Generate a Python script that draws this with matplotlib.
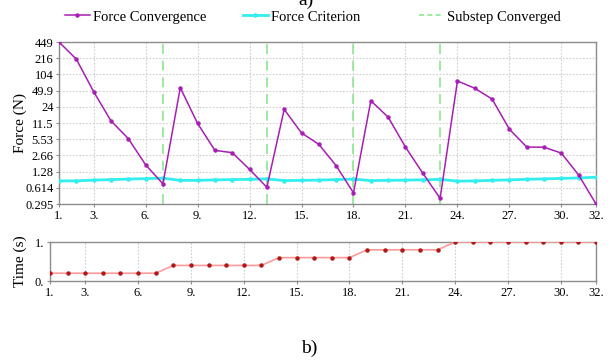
import numpy as np
import matplotlib
matplotlib.use("Agg")
import matplotlib.pyplot as plt
from matplotlib.lines import Line2D
from matplotlib.ticker import FixedLocator, FixedFormatter, NullLocator

plt.rcParams['font.family'] = ['Liberation Serif', 'DejaVu Serif']

iterations = list(range(1, 33))
force_convergence = [449, 207, 47.5, 12.7, 5.69, 1.74, 0.733,
                     56.9, 11.3, 3.34, 3.01, 1.41, 0.629,
                     21.3, 7.34, 4.39, 1.67, 0.488,
                     31.5, 15.0, 3.88, 1.19, 0.381,
                     77.1, 55.4, 34.0, 8.69, 3.88, 3.85, 2.95, 1.09, 0.295]
force_criterion = [0.84, 0.84, 0.87, 0.89, 0.91, 0.93, 0.95,
                   0.86, 0.86, 0.88, 0.89, 0.90, 0.92,
                   0.85, 0.86, 0.87, 0.89, 0.91,
                   0.85, 0.86, 0.87, 0.88, 0.90,
                   0.83, 0.84, 0.86, 0.88, 0.90, 0.92, 0.94, 0.96, 0.99]
substep_converged = [7, 13, 18, 23]
time_s = [0.2] * 7 + [0.4] * 6 + [0.6] * 5 + [0.8] * 5 + [1.0] * 9

force_ticks = [449, 216, 104, 49.9, 24, 11.5, 5.53, 2.66, 1.28, 0.614, 0.295]
force_tick_labels = ["449", "216", "104", "49.9", "24", "11.5", "5.53", "2.66", "1.28", "0.614", "0.295"]
x_ticks = [1, 3, 6, 9, 12, 15, 18, 21, 24, 27, 30, 32]
x_tick_labels = [f"{t}." for t in x_ticks]

magenta = "#a81eb4"
cyan = "#33eeee"
green = "#8fe68f"
frame = "#8c8c8c"

fig = plt.figure(figsize=(6.12, 3.6), dpi=100)
ax = fig.add_axes([0.0964, 0.4333, 0.8775, 0.45])
ax2 = fig.add_axes([0.0817, 0.2194, 0.8922, 0.1083])

# main force plot
ax.set_yscale("log")
ax.plot(iterations, force_criterion, color=cyan, lw=2.0, marker="o", ms=2.2, zorder=3)
ax.plot(iterations, force_convergence, color=magenta, lw=1.1, marker="o", ms=2.2, zorder=4)
for s in substep_converged:
    ax.axvline(s, color=green, lw=1.2, ls=(0, (6, 4)), zorder=2)

ax.set_xlim(1, 32)
ax.set_ylim(0.295, 449)
ax.yaxis.set_major_locator(FixedLocator(force_ticks))
ax.yaxis.set_major_formatter(FixedFormatter(force_tick_labels))
ax.yaxis.set_minor_locator(NullLocator())
ax.set_xticks(x_ticks)
ax.set_xticklabels(x_tick_labels)
ax.set_ylabel("Force (N)", fontsize=11)
ax.yaxis.set_label_coords(-0.0596, 0.5)
ax.grid(True, color="#cfcfcf", ls=(0, (1.5, 1.5)), lw=0.8)

# time plot
ax2.plot(iterations, time_s, color="#ff9a9a", lw=1.2, zorder=3)
ax2.plot(iterations, time_s, ls="none", color="#b01818", marker="o", ms=2.2, zorder=4)
ax2.set_xlim(1, 32)
ax2.set_ylim(0, 1)
ax2.set_yticks([0, 1])
ax2.set_yticklabels(["0.", "1."])
ax2.set_xticks(x_ticks)
ax2.set_xticklabels(x_tick_labels)
ax2.set_ylabel("Time (s)", fontsize=11)
ax2.yaxis.set_label_coords(-0.042, 0.5)
ax2.grid(True, axis="x", color="#cfcfcf", ls=(0, (1.5, 1.5)), lw=0.8)

for a in (ax, ax2):
    for sp in a.spines.values():
        sp.set_color(frame)
        sp.set_linewidth(1.0)
    a.tick_params(labelsize=9, length=2, color=frame, pad=2)

# legend entries placed individually (uneven spacing in the original)
legend_items = [
    (Line2D([], [], color=magenta, lw=1.1, marker="o", ms=2.2), "Force Convergence", 65),
    (Line2D([], [], color=cyan, lw=2.0, marker="o", ms=2.2), "Force Criterion", 243),
    (Line2D([], [], color=green, lw=1.2, ls=(0, (3, 2))), "Substep Converged", 419),
]
for h, lab, x0 in legend_items:
    fig.legend([h], [lab], loc="center left", bbox_to_anchor=(x0 / 612, 0.953),
               frameon=False, fontsize=10.5, handlelength=1.7, handletextpad=0.25,
               borderpad=0, borderaxespad=0)

fig.text(0.5, 0.986, "a)", ha="center", va="baseline", fontsize=14)
fig.text(0.505, 0.019, "b)", ha="center", va="baseline", fontsize=14)

fig.savefig("out.png", dpi=100)
